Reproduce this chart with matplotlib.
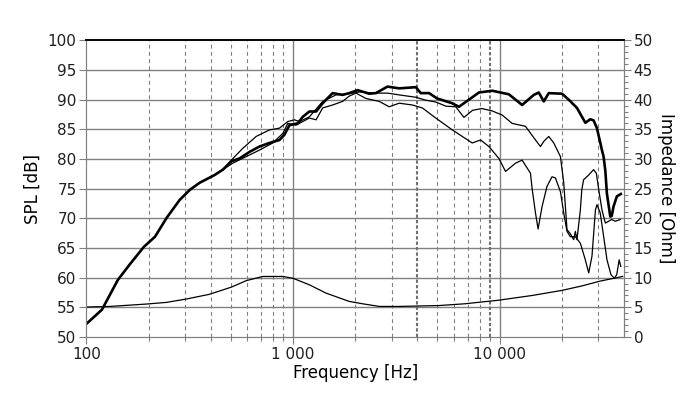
import numpy as np
import matplotlib
matplotlib.use('Agg')
import matplotlib.pyplot as plt
from matplotlib.ticker import FixedLocator, FuncFormatter, NullFormatter

#---- Data -------------------------------------------------------------------#

# On-axis SPL (thick line)
f_main = [100, 119, 130, 142, 162, 190, 215, 245, 283, 317, 354, 418, 458, 503,
          552, 617, 689, 770, 861, 910, 962, 1055, 1115, 1201, 1294, 1393,
          1556, 1739, 1874, 2054, 2340, 2521, 2867, 3266, 3932, 4156, 4558,
          4983, 5887, 6363, 7110, 7946, 9212, 11090, 12860, 14640, 15480,
          16360, 17300, 20050, 21600, 23690, 26010, 27490, 28510, 29580,
          30730, 31280, 31870, 32500, 33060, 34340, 34900, 35610, 36950, 38630]
spl_main = [52.2, 54.6, 57.1, 59.6, 62.2, 65.2, 66.9, 70.1, 73.1, 74.8, 76.0,
            77.3, 78.2, 79.6, 80.1, 81.2, 82.1, 82.7, 83.2, 84.1, 85.7, 86.0,
            87.1, 88.0, 88.0, 89.4, 91.1, 90.8, 91.1, 91.6, 91.0, 91.1, 92.2,
            91.9, 92.1, 91.1, 91.1, 90.2, 89.4, 88.8, 90.0, 91.2, 91.5, 90.9,
            89.1, 90.8, 91.2, 89.7, 91.1, 91.0, 90.0, 88.6, 86.1, 86.7, 86.5,
            85.2, 82.7, 81.5, 80.4, 78.0, 74.2, 70.3, 70.4, 72.0, 73.7, 74.1]

# Off-axis SPL, first thin line
f_off1 = [458, 503, 572, 664, 770, 861, 944, 1017, 1075, 1201, 1393, 1616,
          1874, 2100, 2500, 2867, 3266, 3932, 4400, 4911, 5500, 6133, 6725,
          7400, 8200, 9200, 10300, 11500, 13350, 14920, 15770, 16400, 17300,
          18290, 19700, 20440, 21200, 22000, 22840, 23270, 23690, 24600, 25000,
          25500, 27000, 28500, 29400, 30200, 31300, 32500, 33700, 34900, 36300,
          38400]
spl_off1 = [78.2, 79.8, 81.8, 83.8, 84.9, 85.2, 86.3, 86.6, 86.3, 87.1, 89.7,
            90.8, 91.0, 91.3, 91.1, 91.1, 90.8, 90.4, 89.9, 89.6, 88.9, 88.8,
            87.0, 88.2, 88.5, 88.1, 87.4, 86.0, 85.5, 83.2, 82.1, 83.0, 83.8,
            82.7, 80.4, 76.0, 68.1, 67.4, 66.4, 67.8, 66.4, 71.4, 74.8, 76.5,
            77.3, 78.2, 77.6, 74.8, 71.4, 69.2, 69.5, 69.8, 69.5, 69.8]

# Off-axis SPL, second thin line
f_off2 = [458, 512, 594, 689, 799, 893, 944, 1036, 1115, 1201, 1294, 1393,
          1556, 1739, 1874, 2018, 2256, 2616, 2923, 3266, 3786, 4230, 4911,
          5488, 5905, 6598, 7373, 8096, 8880, 9920, 10690, 11950, 12860, 14110,
          14370, 14920, 15360, 16060, 16970, 17940, 18640, 19700, 20440, 21200,
          22000, 23270, 24600, 26000, 27000, 28000, 29100, 29600, 30700, 31900,
          33100, 34600, 35900, 36900, 37900, 38600]
spl_off2 = [78.2, 79.3, 80.4, 81.5, 82.7, 84.3, 86.0, 85.7, 86.3, 86.9, 86.6,
            88.6, 89.1, 89.7, 90.6, 91.1, 90.2, 89.7, 88.8, 89.4, 89.1, 88.6,
            86.9, 85.7, 84.9, 83.8, 82.7, 83.2, 82.1, 80.1, 77.9, 79.3, 79.8,
            77.6, 75.0, 70.9, 68.2, 72.0, 75.4, 77.0, 76.8, 74.5, 70.9, 67.8,
            66.9, 66.9, 65.8, 63.0, 60.8, 63.6, 71.4, 72.3, 70.9, 66.9, 63.0,
            60.5, 59.9, 60.5, 63.0, 61.9]

# Impedance (right axis)
f_imp = [100, 130, 195, 244, 305, 395, 503, 595, 715, 893, 1000, 1200, 1445,
         1870, 2170, 2620, 3260, 5100, 6800, 9900, 14400, 20000, 25000, 30500,
         39400]
z_imp = [5.05, 5.15, 5.55, 5.83, 6.4, 7.2, 8.4, 9.5, 10.2, 10.2, 9.9, 8.8, 7.4,
         6.0, 5.6, 5.15, 5.15, 5.3, 5.6, 6.2, 7.0, 7.85, 8.6, 9.4, 10.2]

#---- Plotting ---------------------------------------------------------------#

plt.rcParams['font.family'] = 'DejaVu Sans'

fig = plt.figure(figsize=(7, 3.99), dpi=100)
ax = fig.add_axes([0.1233, 0.1554, 0.7681, 0.7436])
ax2 = ax.twinx()

ax.set_xscale('log')
ax.set_xlim(100, 40000)
ax.set_ylim(50, 100)
ax2.set_ylim(0, 50)

# grid: solid horizontals, dashed verticals, solid at decades
for y in range(55, 100, 5):
    ax.axhline(y, color='#808080', lw=1.0, zorder=1)
minor_f = [200, 300, 400, 500, 600, 700, 800, 900,
           2000, 3000, 4000, 5000, 6000, 7000, 8000, 9000, 20000, 30000]
for f in minor_f:
    if f in (4000, 9000):
        ax.axvline(f, color='#707070', lw=1.5, ls=(0, (1.6, 1.0)), zorder=1)
    else:
        ax.axvline(f, color='#808080', lw=0.8, ls=(0, (3.5, 3)), zorder=1)
for f in (1000, 10000):
    ax.axvline(f, color='#808080', lw=1.0, zorder=1)

ax.plot(f_imp, np.array(z_imp) + 50, color='black', lw=0.9, zorder=3)
ax.plot(f_off1, spl_off1, color='black', lw=0.9, zorder=3)
ax.plot(f_off2, spl_off2, color='black', lw=0.9, zorder=3)
ax.plot(f_main, spl_main, color='black', lw=1.9, zorder=4)

# spines
for s in ('left', 'bottom', 'right'):
    ax.spines[s].set_color('#808080')
    ax2.spines[s].set_color('#808080')
ax.spines['top'].set_color('black')
ax2.spines['top'].set_color('black')
ax.spines['top'].set_linewidth(1.2)
ax2.spines['top'].set_linewidth(1.2)

# ticks
ax.xaxis.set_major_locator(FixedLocator([100, 1000, 10000]))
ax.xaxis.set_minor_locator(FixedLocator(minor_f))
ax.xaxis.set_major_formatter(FuncFormatter(lambda v, p: f"{int(v):,}".replace(',', ' ')))
ax.xaxis.set_minor_formatter(NullFormatter())
ax.set_yticks(range(50, 101, 5))
ax2.set_yticks(range(0, 51, 5))
ax2.set_yticks(range(0, 51, 1), minor=True)

ax.tick_params(axis='both', which='major', length=5, width=0.8, color='#808080',
               labelsize=11, labelcolor='#202020', pad=2)
ax.tick_params(axis='x', which='minor', length=3, width=0.8, color='#808080')
ax2.tick_params(axis='y', which='major', length=5, width=0.8, color='#808080',
                labelsize=11, labelcolor='#202020', pad=2)
ax2.tick_params(axis='y', which='minor', length=3, width=0.8, color='#808080')

ax.set_xlabel('Frequency [Hz]', fontsize=12, labelpad=2)
ax.set_ylabel('SPL [dB]', fontsize=12, labelpad=4)
ax2.set_ylabel('Impedance [Ohm]', fontsize=12, rotation=-90, labelpad=16)

fig.savefig('out.png', dpi=100)
